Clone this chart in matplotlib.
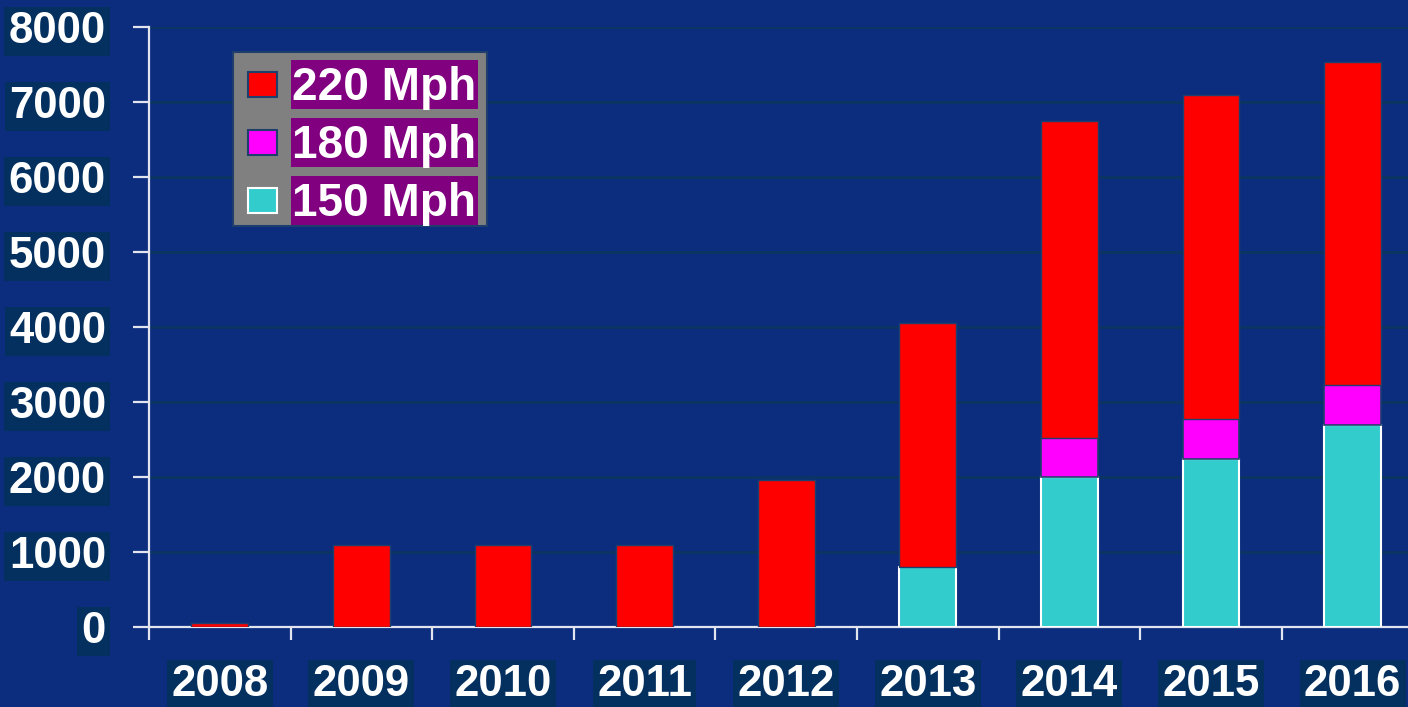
import matplotlib
matplotlib.use("Agg")
import matplotlib.pyplot as plt
from matplotlib.patches import Rectangle
import numpy as np

years = ["2008", "2009", "2010", "2011", "2012", "2013", "2014", "2015", "2016"]
mph150 = [0, 0, 0, 0, 0, 800, 2000, 2240, 2700]
mph180 = [0, 0, 0, 0, 0, 0, 520, 530, 530]
mph220 = [50, 1100, 1100, 1100, 1960, 3250, 4230, 4320, 4310]
series_labels = ["220 Mph", "180 Mph", "150 Mph"]
yticks = [0, 1000, 2000, 3000, 4000, 5000, 6000, 7000, 8000]

BG = "#0C2D7E"
LABEL_BOX = "#04305F"
GRID = "#0B3563"
AXIS_WHITE = "#E2E4EE"
RED = "#FF0000"
MAGENTA = "#FF00FF"
CYAN = "#33CCCC"
EDGE = "#1E3F6E"

W, H = 1408, 707
fig = plt.figure(figsize=(W / 100, H / 100), dpi=100, facecolor=BG)
plt.rcParams["font.family"] = ["Liberation Sans", "DejaVu Sans"]

# axes placed in pixel terms; the category band runs past the right edge
left_px, top_px, bottom_px = 149, 27, 627
cat_w = 141.6
ax = fig.add_axes([left_px / W, (H - bottom_px) / H,
                   9 * cat_w / W, (bottom_px - top_px) / H])
ax.set_facecolor(BG)

x = np.arange(len(years))
bw = 0.4
b150 = np.array(mph150)
b180 = b150 + np.array(mph180)

has150 = b150 > 0
has180 = np.array(mph180) > 0
ax.bar(x[has150], b150[has150], bw, color=CYAN, edgecolor="white", linewidth=1.5, zorder=3)
ax.bar(x[has180], np.array(mph180)[has180], bw, bottom=b150[has180],
       color=MAGENTA, edgecolor=EDGE, linewidth=1.2, zorder=3)
ax.bar(x, mph220, bw, bottom=b180, color=RED, edgecolor=EDGE, linewidth=1.0, zorder=3)

ax.set_xlim(-0.5, 8.5)
ax.set_ylim(0, 8000)

ax.set_yticks(yticks)
ax.set_yticklabels([str(v) for v in yticks])
ax.yaxis.grid(True, color=GRID, linewidth=2)
ax.set_axisbelow(True)

ax.set_xticks(x)
ax.set_xticklabels(years)
ax.set_xticks(np.arange(-0.5, 9.0, 1.0), minor=True)

for s in ["top", "right"]:
    ax.spines[s].set_visible(False)
for s in ["left", "bottom"]:
    ax.spines[s].set_color(AXIS_WHITE)
    ax.spines[s].set_linewidth(1.6)

ax.tick_params(axis="y", which="major", length=11.5, width=1.6, color=AXIS_WHITE,
               pad=19.5, labelsize=31.5, labelcolor="white")
ax.tick_params(axis="x", which="major", length=0, pad=27, labelsize=31.5, labelcolor="white")
ax.tick_params(axis="x", which="minor", length=9.4, width=1.6, color=AXIS_WHITE)

for lab in ax.get_yticklabels() + ax.get_xticklabels():
    lab.set_fontweight("bold")
    lab.set_bbox(dict(boxstyle="square,pad=0.1", facecolor=LABEL_BOX, edgecolor="none"))


def fx(px):
    return px / W


def fy(py):
    return 1 - py / H


# legend panel
fig.add_artist(Rectangle((fx(233), fy(226)), (487 - 233) / W, (226 - 52) / H,
                         transform=fig.transFigure, facecolor="#808080",
                         edgecolor="#1E3F6E", linewidth=1.5, zorder=5))
row_centers = [84.5, 142.5, 200.5]
swatches = [(RED, EDGE), (MAGENTA, EDGE), (CYAN, "white")]
for yc, (fc, ec), label in zip(row_centers, swatches, series_labels):
    fig.add_artist(Rectangle((fx(248), fy(yc + 12.5)), 29 / W, 25 / H,
                             transform=fig.transFigure, facecolor=fc,
                             edgecolor=ec, linewidth=1.5, zorder=6))
    fig.add_artist(Rectangle((fx(291), fy(yc + 24.5)), (478 - 291) / W, 49 / H,
                             transform=fig.transFigure, facecolor="#800080",
                             edgecolor="none", zorder=6))
    fig.text(fx(292), fy(yc + 15.5), label, color="white", fontsize=33,
             fontweight="bold", ha="left", va="baseline", zorder=7)

fig.savefig("out.png", dpi=100, facecolor=BG)
